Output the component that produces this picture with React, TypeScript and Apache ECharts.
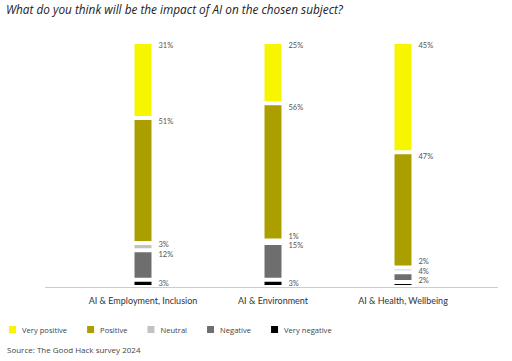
import React, { useEffect, useRef } from "react";
import * as echarts from "echarts";

const categories = ["AI & Employment, Inclusion", "AI & Environment", "AI & Health, Wellbeing"];
const veryPositive = [31, 25, 45];
const positive = [51, 56, 47];
const neutral = [3, 1, 2];
const negative = [12, 15, 4];
const veryNegative = [3, 3, 2];

const legendOrder = ["Very positive", "Positive", "Neutral", "Negative", "Very negative"];

// vertical nudges of the value labels (style only), one per category
const neutralLabelShift = [-2.5, -8, -9.5];
const negativeLabelShift = [0, -1, -5];
const veryNegativeLabelShift = [0, 0, -5.5];
const noShift = [0, 0, 0];

const FONT = "Lato, 'Noto Sans', sans-serif";
const WIDE = "'Open Sans', 'Noto Sans', sans-serif";

export default function App() {
  const ref = useRef<HTMLDivElement>(null);
  useEffect(() => {
    if (!ref.current) return;
    const chart = echarts.init(ref.current, undefined, { renderer: "svg" });
    const mk = (name: string, data: number[], color: string, shifts: number[]) => ({
      name,
      type: "bar",
      stack: "total",
      data: data.map((v, i) => ({ value: v, label: { offset: [5, shifts[i]] } })),
      barWidth: 21,
      itemStyle: { color, borderColor: "#ffffff", borderWidth: 2 },
      label: {
        show: true,
        position: ["100%", 0],
        offset: [5, 0],
        align: "left",
        verticalAlign: "top",
        formatter: "{c}%",
        fontSize: 7.5,
        lineHeight: 7.5,
        color: "#555",
        fontFamily: FONT,
      },
    });
    chart.setOption({
      animation: false,
      textStyle: { fontFamily: FONT },
      title: {
        text: "What do you think will be the impact of AI on the chosen subject?",
        left: 6,
        top: 3,
        padding: 0,
        textStyle: { fontStyle: "italic", fontWeight: "normal", fontSize: 11.8, color: "#222", fontFamily: WIDE },
      },
      legend: {
        data: legendOrder,
        left: 7,
        top: 324,
        padding: 0,
        itemWidth: 9,
        itemHeight: 9,
        itemGap: 18,
        icon: "rect",
        textStyle: { fontSize: 7.6, color: "#444", fontFamily: WIDE },
      },
      grid: { left: 78, right: 44, top: 42, bottom: 74 },
      xAxis: {
        type: "category",
        data: categories,
        axisLine: { show: false },
        axisTick: { show: false },
        axisLabel: { fontSize: 9, color: "#333", margin: 9, interval: 0, fontFamily: FONT },
      },
      yAxis: { type: "value", min: 0, max: 100, show: false },
      graphic: [
        { type: "line", shape: { x1: 45, y1: 287.5, x2: 498, y2: 287.5 }, style: { stroke: "#cccccc", lineWidth: 1 }, silent: true },
        { type: "text", left: 7, top: 345, style: { text: "Source: The Good Hack survey 2024", fontSize: 8, fill: "#444", fontFamily: WIDE } },
      ],
      series: [
        mk("Very negative", veryNegative, "#000000", veryNegativeLabelShift),
        mk("Negative", negative, "#6e6e6e", negativeLabelShift),
        mk("Neutral", neutral, "#c2c2c2", neutralLabelShift),
        mk("Positive", positive, "#ab9f00", noShift),
        mk("Very positive", veryPositive, "#f7f500", noShift),
      ],
    });
    return () => chart.dispose();
  }, []);
  return <div ref={ref} style={{ width: 512, height: 361, position: "absolute", left: 0, top: 0 }} />;
}
